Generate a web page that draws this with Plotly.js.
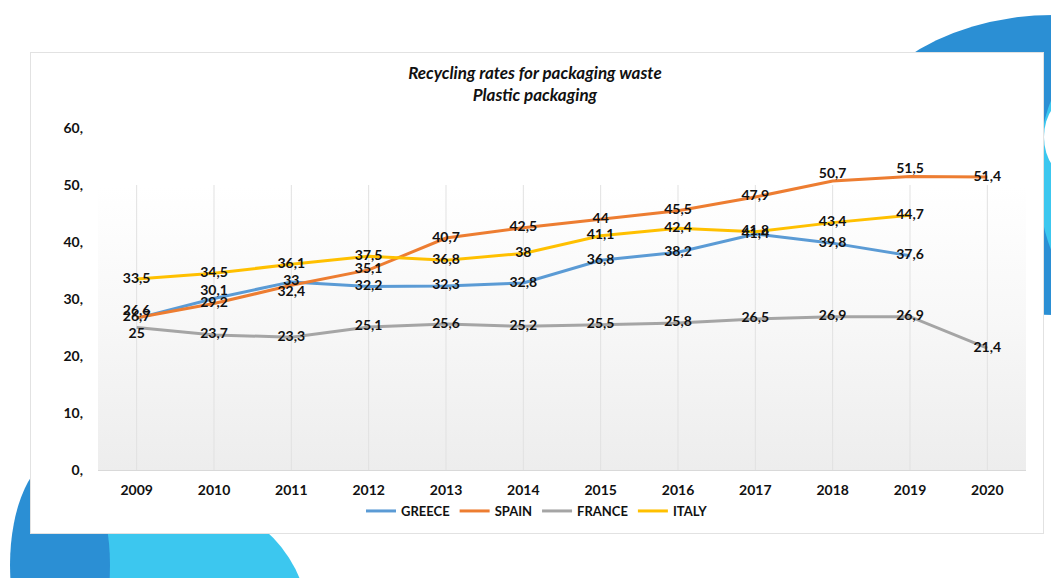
<!DOCTYPE html>
<html>
<head>
<meta charset="utf-8">
<script src="https://cdn.plot.ly/plotly-3.0.1.min.js"></script>
<style>
  html, body { margin: 0; padding: 0; width: 1051px; height: 578px; overflow: hidden; background: #ffffff; }
  .deco { position: absolute; }
  #plot { position: absolute; left: 0; top: 0; width: 1051px; height: 578px; }
</style>
</head>
<body>
<!-- background decorations -->
<div class="deco" style="left:843px; top:15px; width:420px; height:300px; border-radius:50%; background:#2b8fd4;"></div>
<div class="deco" style="left:1038px; top:55px; width:120px; height:240px; border-radius:50%; background:#3cc7ef;"></div>
<div class="deco" style="left:1044px; top:96px; width:60px; height:82px; border-radius:50%; background:#ffffff;"></div>
<div class="deco" style="left:60px; top:500px; width:250px; height:260px; border-radius:50%; background:#3cc7ef;"></div>
<div class="deco" style="left:10px; top:457px; width:100px; height:216px; border-radius:50%; background:#2b8fd4;"></div>
<!-- white card -->
<div class="deco" style="left:30px; top:52px; width:1012px; height:480px; background:#ffffff; border:1px solid #e2e2e2;"></div>
<!-- plot-area gradient -->
<div class="deco" style="left:98px; top:187px; width:928px; height:283px; background:linear-gradient(to bottom, #ffffff 0%, #f7f7f7 50%, #ededed 100%);"></div>
<div id="plot"></div>
<script>
const years = [2009, 2010, 2011, 2012, 2013, 2014, 2015, 2016, 2017, 2018, 2019, 2020];
const greece = [26.6, 30.1, 33, 32.2, 32.3, 32.8, 36.8, 38.2, 41.4, 39.8, 37.6, null];
const spain  = [26.7, 29.2, 32.4, 35.1, 40.7, 42.5, 44, 45.5, 47.9, 50.7, 51.5, 51.4];
const france = [25, 23.7, 23.3, 25.1, 25.6, 25.2, 25.5, 25.8, 26.5, 26.9, 26.9, 21.4];
const italy  = [33.5, 34.5, 36.1, 37.5, 36.8, 38, 41.1, 42.4, 41.8, 43.4, 44.7, null];
const seriesNames = ['GREECE', 'SPAIN', 'FRANCE', 'ITALY'];
const yTickVals = [0, 10, 20, 30, 40, 50, 60];
const chartTitle = 'Recycling rates for packaging waste<br>Plastic packaging';

const colors = ['#5b9bd5', '#ed7d31', '#a5a5a5', '#ffc000'];
const allSeries = [greece, spain, france, italy];

// label placement per series (index -> position)
const placements = [
  {0: 'top center', 1: 'top center'},
  {2: 'bottom center', 9: 'top center', 10: 'top center'},
  {0: 'bottom center'},
  {}
];

const fmt = v => (v === null ? '' : String(v).replace('.', ','));
const FONT = 'Lato, "Open Sans", sans-serif';
const labelFont = {family: FONT, size: 14, color: '#111111', weight: 700};

const traces = [];
allSeries.forEach((vals, i) => {
  traces.push({
    type: 'scatter', mode: 'lines', name: seriesNames[i],
    x: years, y: vals,
    line: {color: colors[i], width: 3},
    hoverinfo: 'skip'
  });
});
allSeries.forEach((vals, i) => {
  traces.push({
    type: 'scatter', mode: 'text', showlegend: false,
    x: years, y: vals,
    text: vals.map(fmt),
    textposition: vals.map((v, k) => placements[i][k] || 'middle center'),
    textfont: labelFont,
    hoverinfo: 'skip'
  });
});

const gridShapes = years.map(yr => ({
  type: 'line', xref: 'x', yref: 'y',
  x0: yr, x1: yr, y0: 0, y1: 50,
  line: {color: '#e1e1e1', width: 1},
  layer: 'below'
}));

const layout = {
  width: 1051, height: 578,
  margin: {l: 98, r: 25, t: 128, b: 108},
  paper_bgcolor: 'rgba(0,0,0,0)',
  plot_bgcolor: 'rgba(0,0,0,0)',
  showlegend: true,
  title: {
    text: '<b><i>' + chartTitle.replace('<br>', '</i></b><br><b><i>') + '</i></b>',
    font: {family: FONT, size: 17, color: '#111111'},
    xref: 'container', yref: 'container',
    x: 0.509, xanchor: 'center',
    y: 1 - 79 / 578, yanchor: 'top'
  },
  xaxis: {
    range: [2008.5, 2020.5],
    tickvals: years, ticktext: years.map(String),
    showgrid: false, zeroline: false,
    showline: true, linecolor: '#d9d9d9', linewidth: 1,
    ticks: '', ticklabelstandoff: 7,
    tickfont: {family: FONT, size: 14, color: '#111111', weight: 700},
    fixedrange: true
  },
  yaxis: {
    range: [0, 60],
    tickvals: yTickVals, ticktext: yTickVals.map(v => v + ','),
    showgrid: false, zeroline: false, showline: false,
    ticks: '', ticklabelstandoff: 14,
    tickfont: {family: FONT, size: 14, color: '#111111', weight: 700},
    fixedrange: true
  },
  legend: {
    orientation: 'h',
    x: (537 - 98) / 928, xanchor: 'center',
    y: (470 - 511) / 342, yanchor: 'middle',
    font: {family: FONT, size: 13, color: '#111111', weight: 700},
    itemwidth: 30,
    bgcolor: 'rgba(0,0,0,0)'
  },
  shapes: gridShapes
};

Plotly.newPlot('plot', traces, layout, {displayModeBar: false, staticPlot: true});
</script>
</body>
</html>
